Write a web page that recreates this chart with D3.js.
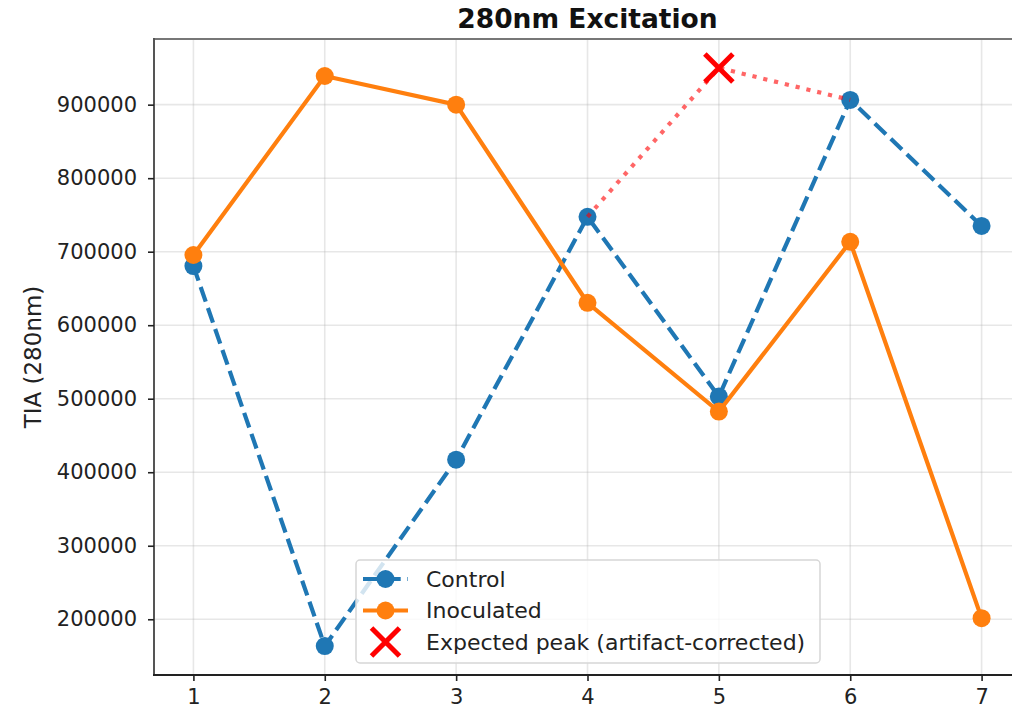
<!DOCTYPE html>
<html>
<head>
<meta charset="utf-8">
<script src="https://cdn.jsdelivr.net/npm/d3@7"></script>
<style>
  html, body { margin: 0; padding: 0; background: #fff; }
  svg { display: block; font-family: "DejaVu Sans", sans-serif; }
</style>
</head>
<body>
<svg id="chart" width="1012" height="711"></svg>
<script>
// ---- data ----
const days = [1, 2, 3, 4, 5, 6, 7];
const control = [680500, 163500, 417000, 747500, 503000, 906500, 735000];
const inoculated = [695500, 939000, 900000, 630500, 482500, 713500, 201500];
const expectedDay = [5];
const expectedValue = [950000];
const xTicks = [1, 2, 3, 4, 5, 6, 7];
const yTicks = [200000, 300000, 400000, 500000, 600000, 700000, 800000, 900000];
const seriesNames = ["Control", "Inoculated", "Expected peak (artifact-corrected)"];
const titleText = "280nm Excitation";
const yLabelText = "TIA (280nm)";

// ---- layout ----
const svg = d3.select("#chart");
const L = 154, T = 39, R = 1021, B = 675;
const blue = "#1f77b4", orange = "#ff7f0e";

const xMin = d3.min(days), xMax = d3.max(days);
const xPad = (xMax - xMin) * 0.05;
const x = d3.scaleLinear().domain([xMin - xPad, xMax + xPad]).range([L, R]);

const allY = control.concat(inoculated, expectedValue);
const yMin = d3.min(allY), yMax = d3.max(allY);
const yPad = (yMax - yMin) * 0.05;
const y = d3.scaleLinear().domain([yMin - yPad, yMax + yPad]).range([B, T]);

// grid
const grid = svg.append("g");
grid.selectAll("line.gx").data(xTicks).join("line")
  .attr("x1", d => x(d)).attr("x2", d => x(d)).attr("y1", T).attr("y2", B)
  .attr("stroke", "#b0b0b0").attr("stroke-opacity", 0.3).attr("stroke-width", 1.6);
grid.selectAll("line.gy").data(yTicks).join("line")
  .attr("x1", L).attr("x2", R).attr("y1", d => y(d)).attr("y2", d => y(d))
  .attr("stroke", "#b0b0b0").attr("stroke-opacity", 0.3).attr("stroke-width", 1.6);

const line = d3.line().x(d => x(d[0])).y(d => y(d[1]));

// control
const cPts = days.map((d, i) => [d, control[i]]);
svg.append("path").datum(cPts).attr("d", line)
  .attr("fill", "none").attr("stroke", blue).attr("stroke-width", 4.2)
  .attr("stroke-dasharray", "15.5 6.7");
svg.append("g").selectAll("circle").data(cPts).join("circle")
  .attr("cx", d => x(d[0])).attr("cy", d => y(d[1])).attr("r", 9)
  .attr("fill", blue);

// inoculated
const iPts = days.map((d, i) => [d, inoculated[i]]);
svg.append("path").datum(iPts).attr("d", line)
  .attr("fill", "none").attr("stroke", orange).attr("stroke-width", 4.2);
svg.append("g").selectAll("circle").data(iPts).join("circle")
  .attr("cx", d => x(d[0])).attr("cy", d => y(d[1])).attr("r", 9)
  .attr("fill", orange);

// expected (dotted from control day 4 -> expected -> control day 6)
const ePts = [[days[3], control[3]], [expectedDay[0], expectedValue[0]], [days[5], control[5]]];
svg.append("path").datum(ePts).attr("d", line)
  .attr("fill", "none").attr("stroke", "red").attr("stroke-opacity", 0.6)
  .attr("stroke-width", 4.2).attr("stroke-dasharray", "4.2 6.9");

function drawX(g, cx, cy, h) {
  g.append("path")
    .attr("d", `M${cx - h},${cy - h}L${cx + h},${cy + h}M${cx - h},${cy + h}L${cx + h},${cy - h}`)
    .attr("stroke", "red").attr("stroke-width", 5).attr("fill", "none");
}
const xm = svg.append("g");
expectedDay.forEach((d, i) => drawX(xm, x(d), y(expectedValue[i]), 14));

// spines
svg.append("line").attr("x1", L).attr("x2", R).attr("y1", T).attr("y2", T)
  .attr("stroke", "#777").attr("stroke-width", 2);
svg.append("line").attr("x1", L).attr("x2", L).attr("y1", T - 1).attr("y2", B + 1)
  .attr("stroke", "#555").attr("stroke-width", 2);
svg.append("line").attr("x1", L - 1).attr("x2", R).attr("y1", B).attr("y2", B)
  .attr("stroke", "#222").attr("stroke-width", 2);

// axes
const xAxis = svg.append("g").attr("transform", `translate(0,${B})`)
  .call(d3.axisBottom(x).tickValues(xTicks).tickSize(6).tickPadding(8).tickFormat(d3.format("d")));
xAxis.select(".domain").remove();
xAxis.selectAll("text").attr("font-size", 21).attr("fill", "#222").attr("font-family", "DejaVu Sans");
xAxis.selectAll("line").attr("stroke", "#222").attr("stroke-width", 1.6);

const yAxis = svg.append("g").attr("transform", `translate(${L},0)`)
  .call(d3.axisLeft(y).tickValues(yTicks).tickSize(6).tickPadding(11).tickFormat(d3.format("d")));
yAxis.select(".domain").remove();
yAxis.selectAll("text").attr("font-size", 21).attr("fill", "#222").attr("font-family", "DejaVu Sans");
yAxis.selectAll("line").attr("stroke", "#222").attr("stroke-width", 1.6);

// title & labels
svg.append("text").attr("x", (L + R) / 2).attr("y", 28).attr("text-anchor", "middle")
  .attr("font-size", 26.5).attr("font-weight", "bold").attr("fill", "#111").text(titleText);
svg.append("text").attr("transform", `translate(41,${(T + B) / 2}) rotate(-90)`)
  .attr("text-anchor", "middle").attr("font-size", 23).attr("fill", "#222").text(yLabelText);

// legend
const lg = svg.append("g");
lg.append("rect").attr("x", 356).attr("y", 560).attr("width", 464).attr("height", 103)
  .attr("rx", 4).attr("fill", "#fff").attr("fill-opacity", 0.8)
  .attr("stroke", "#d6d6d6").attr("stroke-width", 1.5);
const rowsY = [579, 610.5, 642];
// control handle
lg.append("line").attr("x1", 363).attr("x2", 408).attr("y1", rowsY[0]).attr("y2", rowsY[0])
  .attr("stroke", blue).attr("stroke-width", 4.2).attr("stroke-dasharray", "15.5 6.7");
lg.append("circle").attr("cx", 385.5).attr("cy", rowsY[0]).attr("r", 9).attr("fill", blue);
// inoculated handle
lg.append("line").attr("x1", 363).attr("x2", 408).attr("y1", rowsY[1]).attr("y2", rowsY[1])
  .attr("stroke", orange).attr("stroke-width", 4.2);
lg.append("circle").attr("cx", 385.5).attr("cy", rowsY[1]).attr("r", 9).attr("fill", orange);
// expected handle
drawX(lg, 385.5, rowsY[2], 14);
lg.selectAll("text").data(seriesNames).join("text")
  .attr("x", 426).attr("y", (d, i) => rowsY[i]).attr("dy", "0.35em")
  .attr("font-size", 22).attr("fill", "#222").text(d => d);
</script>
</body>
</html>
